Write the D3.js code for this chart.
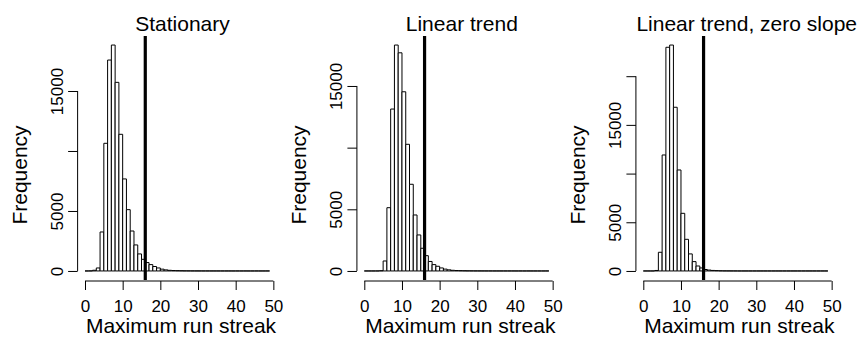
<!DOCTYPE html>
<html><head><meta charset="utf-8">
<script src="https://cdn.jsdelivr.net/npm/d3@7/dist/d3.min.js"></script>
<style>
body{margin:0;background:#fff}
svg{display:block}
text{font-family:"Liberation Sans",Arial,Helvetica,sans-serif;fill:#000}
</style>
</head><body><svg id="chart" width="861" height="337"></svg>
<script>
// ---- data ----
const titles = ["Stationary", "Linear trend", "Linear trend, zero slope"];
const binStarts = [0,1,2,3,4,5,6,7,8,9,10,11,12,13,14,15,16,17,18,19,20,21,22,23,24,25,26,27,28,29,30,31,32,33,34,35,36,37,38,39,40,41,42,43,44,45,46,47,48];
const stationary = [0,5,60,250,3250,10640,17580,18830,15720,11390,7670,5110,3330,2170,1420,970,700,530,370,250,150,90,55,35,25,18,12,9,7,5,4,3,3,2,2,1,1,1,1,0,1,0,1,0,0,1,0,0,1];
const linearTrend = [0,0,0,2,20,810,5130,13130,18320,17690,14530,10270,7030,4540,2920,1840,1240,770,515,380,245,150,90,55,35,25,18,12,9,7,5,4,3,3,2,2,1,1,1,1,0,1,0,1,0,0,0,0,1];
const zeroSlope = [0,0,0,50,1920,11910,22970,23200,16810,10370,5920,3250,1750,960,510,310,150,90,55,35,20,12,8,5,3,1,1,1,0,1,0,0,1,0,0,1,0,0,0,1,0,0,0,0,1,0,0,0,1];
const xTicks = [0, 10, 20, 30, 40, 50];
const yTicksA = [0, 5000, 10000, 15000];
const yTicksB = [0, 5000, 10000, 15000, 20000];
const yLabelsShown = [0, 5000, 15000];
const observedStreak = 16;

const panels = [
  {title: titles[0], counts: stationary, yTicks: yTicksA, zeroX: 85.0, titleDx: 97.5},
  {title: titles[1], counts: linearTrend, yTicks: yTicksA, zeroX: 364.3, titleDx: 97.5},
  {title: titles[2], counts: zeroSlope, yTicks: yTicksB, zeroX: 643.3, titleDx: 103.4}
];

// ---- layout ----
const unit = 3.767;            // px per x unit
const plotTop = 36, plotBottom = 280;
const xMin = 0, xMax = 49;
const pad = 0.04;

const svg = d3.select("#chart");

panels.forEach(p => {
  const xr = xMax - xMin;
  const x = d3.scaleLinear()
    .domain([xMin - pad * xr, xMax + pad * xr])
    .range([p.zeroX - pad * xr * unit, p.zeroX + (xMax + pad * xr) * unit]);
  const maxC = d3.max(p.counts);
  const y = d3.scaleLinear()
    .domain([-pad * maxC, (1 + pad) * maxC])
    .range([plotBottom, plotTop]);
  const plotLeft = x.range()[0];

  const g = svg.append("g");

  // bars
  g.append("g").selectAll("path")
    .data(binStarts.map((b, i) => ({b, c: p.counts[i]})))
    .join("path")
    .attr("d", d => {
      const x0 = x(d.b), x1 = x(d.b + 1), y0 = y(0), y1 = y(d.c);
      return `M${x0},${y0}V${y1}H${x1}V${y0}Z`;
    })
    .attr("fill", "#fff")
    .attr("stroke", "#000")
    .attr("stroke-width", 1);

  // vertical reference line
  g.append("line")
    .attr("x1", x(observedStreak)).attr("x2", x(observedStreak))
    .attr("y1", plotTop).attr("y2", plotBottom)
    .attr("stroke", "#000").attr("stroke-width", 3.2);

  // x axis
  const xa = g.append("g")
    .attr("transform", `translate(0,281)`)
    .call(d3.axisBottom(x).tickValues(xTicks).tickSize(9).tickSizeOuter(0).tickFormat(d3.format("d")));
  xa.select(".domain").attr("d", `M${x(xTicks[0])},0H${x(xTicks[xTicks.length - 1])}`).attr("stroke", "#000");
  xa.selectAll(".tick line").attr("stroke", "#000");
  xa.selectAll(".tick text")
    .attr("y", 30.5).attr("dy", 0)
    .style("font-size", "17px")
    .style("font-family", '"Liberation Sans",Arial,sans-serif');

  // y axis
  const lastT = p.yTicks[p.yTicks.length - 1];
  const ya = g.append("g")
    .attr("transform", `translate(${plotLeft},0)`)
    .call(d3.axisLeft(y).tickValues(p.yTicks).tickSize(9.5).tickSizeOuter(0)
      .tickFormat(d => yLabelsShown.includes(d) ? String(d) : ""));
  ya.select(".domain").attr("d", `M0,${y(0)}V${y(lastT)}`).attr("stroke", "#000");
  ya.selectAll(".tick line").attr("stroke", "#000");
  ya.selectAll(".tick text")
    .attr("x", 0).attr("y", -15).attr("dy", 0)
    .attr("transform", "rotate(-90)")
    .attr("text-anchor", "middle")
    .style("font-size", "17px")
    .style("font-family", '"Liberation Sans",Arial,sans-serif');

  // title
  g.append("text")
    .attr("x", p.zeroX + p.titleDx).attr("y", 31)
    .attr("text-anchor", "middle")
    .style("font-size", "21px")
    .text(p.title);

  // x label
  g.append("text")
    .attr("x", p.zeroX + 96).attr("y", 333)
    .attr("text-anchor", "middle")
    .style("font-size", "21px")
    .text("Maximum run streak");

  // y label
  g.append("text")
    .attr("transform", `translate(${plotLeft - 50.5},175) rotate(-90)`)
    .attr("text-anchor", "middle")
    .style("font-size", "21px")
    .text("Frequency");
});
</script>
</body></html>
